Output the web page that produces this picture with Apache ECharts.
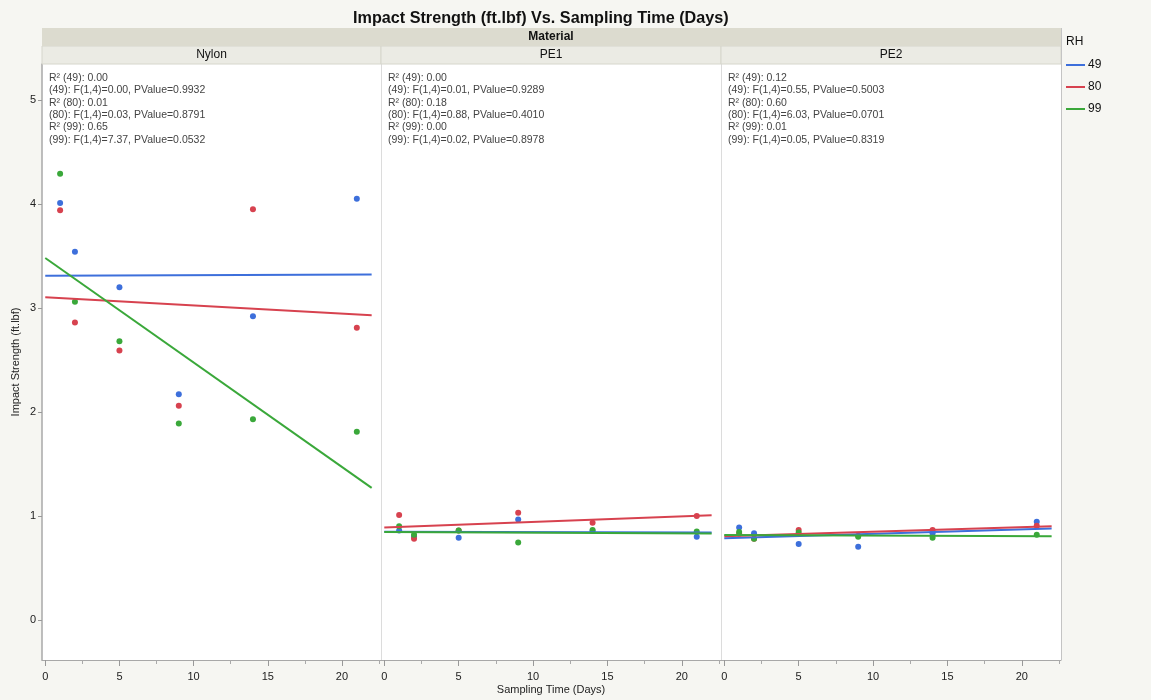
<!DOCTYPE html>
<html><head><meta charset="utf-8">
<script src="https://cdn.jsdelivr.net/npm/echarts@6/dist/echarts.min.js"></script>
<style>html,body{margin:0;padding:0;background:#f6f6f2;}#c{width:1151px;height:700px;}</style>
</head><body><div id="c"></div>
<script>
const days = [1, 2, 5, 9, 14, 21];
const panels = ['Nylon', 'PE1', 'PE2'];
const rhLevels = ['49', '80', '99'];
// Impact strength (ft.lbf) by panel and RH
const nylon49 = [4.01, 3.54, 3.20, 2.17, 2.92, 4.05];
const nylon80 = [3.94, 2.86, 2.59, 2.06, 3.95, 2.81];
const nylon99 = [4.29, 3.06, 2.68, 1.89, 1.93, 1.81];
const pe1_49 = [0.86, 0.80, 0.79, 0.965, 0.855, 0.80];
const pe1_80 = [1.01, 0.78, 0.86, 1.03, 0.935, 1.00];
const pe1_99 = [0.90, 0.82, 0.86, 0.745, 0.865, 0.85];
const pe2_49 = [0.89, 0.835, 0.73, 0.705, 0.835, 0.945];
const pe2_80 = [0.83, 0.78, 0.865, 0.81, 0.865, 0.905];
const pe2_99 = [0.845, 0.78, 0.84, 0.80, 0.79, 0.82];
const yTicks = [0, 1, 2, 3, 4, 5];
const xTicks = [0, 5, 10, 15, 20];
const xMinorTicks = [2.5, 7.5, 12.5, 17.5, 22.5];
const statsNylon = ['R\u00b2 (49): 0.00', '(49): F(1,4)=0.00, PValue=0.9932', 'R\u00b2 (80): 0.01', '(80): F(1,4)=0.03, PValue=0.8791', 'R\u00b2 (99): 0.65', '(99): F(1,4)=7.37, PValue=0.0532'];
const statsPE1 = ['R\u00b2 (49): 0.00', '(49): F(1,4)=0.01, PValue=0.9289', 'R\u00b2 (80): 0.18', '(80): F(1,4)=0.88, PValue=0.4010', 'R\u00b2 (99): 0.00', '(99): F(1,4)=0.02, PValue=0.8978'];
const statsPE2 = ['R\u00b2 (49): 0.12', '(49): F(1,4)=0.55, PValue=0.5003', 'R\u00b2 (80): 0.60', '(80): F(1,4)=6.03, PValue=0.0701', 'R\u00b2 (99): 0.01', '(99): F(1,4)=0.05, PValue=0.8319'];
const fitRange = [0, 22];

const panelData = [[nylon49, nylon80, nylon99], [pe1_49, pe1_80, pe1_99], [pe2_49, pe2_80, pe2_99]];
const panelStats = [statsNylon, statsPE1, statsPE2];
const colors = ['#3d6fdb', '#d7424f', '#3aa83a'];
const gridLeft = [42, 381, 721];
const gridWidth = [339, 340, 340];
const TOP = 64, HEIGHT = 596;
const XMIN = -0.22, XMAX = 22.63;
const FONT = '"Liberation Sans", Arial, sans-serif';

function fit(xs, ys) {
  const n = xs.length;
  const mx = xs.reduce((a, b) => a + b, 0) / n;
  const my = ys.reduce((a, b) => a + b, 0) / n;
  let sxy = 0, sxx = 0;
  for (let i = 0; i < n; i++) { sxy += (xs[i] - mx) * (ys[i] - my); sxx += (xs[i] - mx) ** 2; }
  const b = sxy / sxx, a = my - b * mx;
  return fitRange.map(x => [x, a + b * x]);
}

const grid = [], xAxis = [], yAxis = [], series = [], graphic = [];
for (let p = 0; p < 3; p++) {
  grid.push({ left: gridLeft[p], top: TOP, width: gridWidth[p], height: HEIGHT, show: true,
    backgroundColor: '#ffffff', borderWidth: 0, containLabel: false, outerBoundsMode: 'none' });
  xAxis.push({
    type: 'value', gridIndex: p, min: XMIN, max: XMAX, position: 'bottom', offset: 0,
    axisLine: { show: true, onZero: false, lineStyle: { color: '#a8a8a8', width: 1 } },
    axisTick: { show: true, customValues: xTicks, length: 6, lineStyle: { color: '#999' } },
    axisLabel: { customValues: xTicks, color: '#222', fontSize: 11, fontFamily: FONT, margin: 11 },
    splitLine: { show: false }
  });
  xAxis.push({
    type: 'value', gridIndex: p, min: XMIN, max: XMAX, position: 'bottom', offset: 0,
    axisLine: { show: false, onZero: false },
    axisTick: { show: true, customValues: xMinorTicks, length: 4, lineStyle: { color: '#aaa' } },
    axisLabel: { show: false }, splitLine: { show: false }
  });
  yAxis.push({
    type: 'value', gridIndex: p, min: -0.385, max: 5.346, position: 'left', offset: 0,
    axisLine: { show: true, onZero: false, lineStyle: { color: p === 0 ? '#a8a8a8' : '#dcdcdc', width: p === 0 ? 1.5 : 1 } },
    axisTick: { show: p === 0, customValues: yTicks, length: 4, lineStyle: { color: '#999' } },
    axisLabel: { show: p === 0, customValues: yTicks, color: '#222', fontSize: 11, fontFamily: FONT, margin: 6 },
    splitLine: { show: false },
    name: p === 0 ? 'Impact Strength (ft.lbf)' : '', nameLocation: 'middle', nameGap: 21,
    nameTextStyle: { color: '#222', fontSize: 11, fontFamily: FONT }
  });
  for (let r = 0; r < 3; r++) {
    const vals = panelData[p][r];
    series.push({
      name: rhLevels[r], type: 'scatter', xAxisIndex: p * 2, yAxisIndex: p,
      data: days.map((d, i) => [d, vals[i]]), symbolSize: 6,
      itemStyle: { color: colors[r], opacity: 1 }, z: 2
    });
  }
  for (let r = 0; r < 3; r++) {
    series.push({
      name: rhLevels[r], type: 'line', xAxisIndex: p * 2, yAxisIndex: p,
      data: fit(days, panelData[p][r]), showSymbol: false, symbol: 'none',
      lineStyle: { color: colors[r], width: 2 }, itemStyle: { color: colors[r] }, z: 3, silent: true
    });
  }
  // panel header strip
  graphic.push({ type: 'rect', shape: { x: gridLeft[p], y: 46, width: gridWidth[p], height: 18 },
    style: { fill: '#ebebe4', stroke: '#d6d6cc', lineWidth: 1 }, z: 1 });
  graphic.push({ type: 'text', x: gridLeft[p] + gridWidth[p] / 2, y: 55,
    style: { text: panels[p], font: '12px ' + FONT, fill: '#111', align: 'center', verticalAlign: 'middle' }, z: 2 });
  graphic.push({ type: 'text', x: gridLeft[p] + 7, y: 72,
    style: { text: panelStats[p].join('\n'), font: '10.5px ' + FONT, fill: '#444', lineHeight: 12.3, align: 'left', verticalAlign: 'top' }, z: 5 });
}
// Material strip
graphic.push({ type: 'rect', shape: { x: 42, y: 28, width: 1019, height: 18 }, style: { fill: '#dcdbcf' }, z: 1 });
graphic.push({ type: 'text', x: 551, y: 37, style: { text: 'Material', font: 'bold 12px ' + FONT, fill: '#111', align: 'center', verticalAlign: 'middle' }, z: 2 });
// x axis title
graphic.push({ type: 'text', x: 551, y: 690, style: { text: 'Sampling Time (Days)', font: '11px ' + FONT, fill: '#222', align: 'center', verticalAlign: 'middle' }, z: 2 });
// right border
graphic.push({ type: 'line', shape: { x1: 1061.5, y1: 28, x2: 1061.5, y2: 660 }, style: { stroke: '#c4c4c4', lineWidth: 1 }, z: 4 });
// legend title
graphic.push({ type: 'text', x: 1066, y: 42, style: { text: 'RH', font: '12px ' + FONT, fill: '#111', align: 'left', verticalAlign: 'middle' }, z: 2 });

const chart = echarts.init(document.getElementById('c'), null, { renderer: 'canvas' });
chart.setOption({
  animation: false,
  backgroundColor: '#f6f6f2',
  title: { text: 'Impact Strength (ft.lbf) Vs. Sampling Time (Days)', left: 348, top: 6,
    textStyle: { fontSize: 16.2, fontWeight: 'bold', color: '#111', fontFamily: FONT } },
  legend: {
    orient: 'vertical', left: 1066, top: 58, padding: 0, itemWidth: 19, itemHeight: 2, itemGap: 8,
    data: rhLevels.map((n, i) => ({ name: n, icon: 'rect', itemStyle: { color: colors[i] } })),
    textStyle: { fontSize: 12, color: '#111', fontFamily: FONT, lineHeight: 14, padding: [0, 0, 0, -2] },
    selectedMode: false
  },
  grid, xAxis, yAxis, series, graphic
});
</script></body></html>
